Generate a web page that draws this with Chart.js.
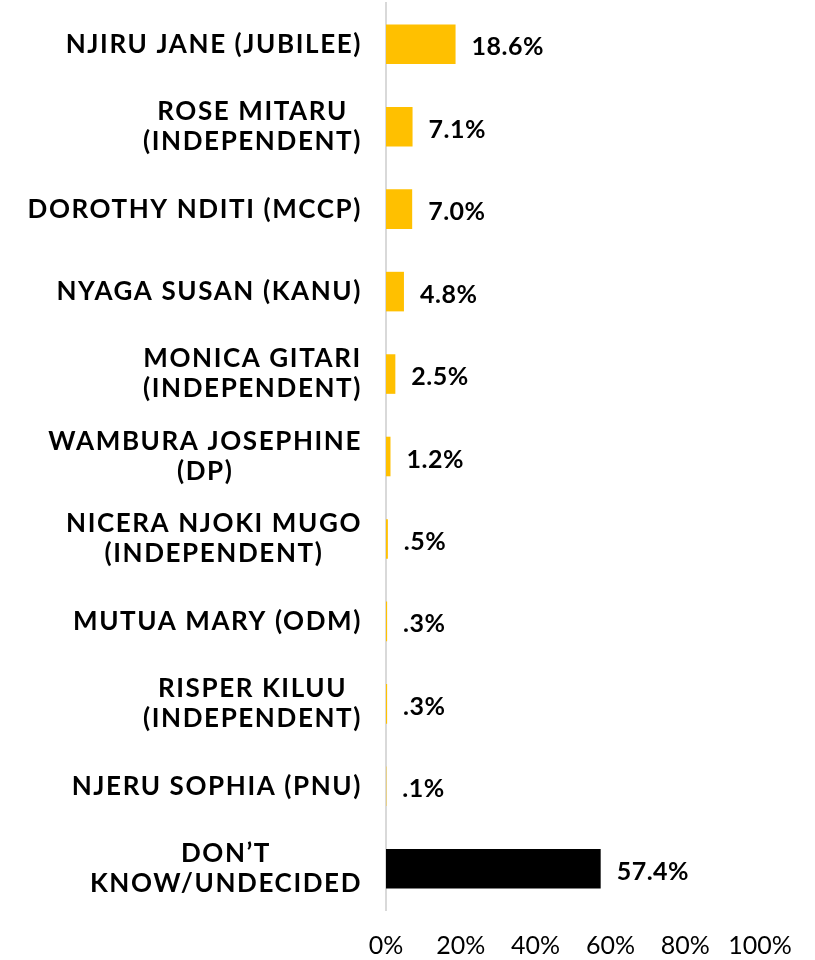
<!DOCTYPE html>
<html>
<head>
<meta charset="utf-8">
<script src="https://cdn.jsdelivr.net/npm/chart.js@4"></script>
<style>
  html, body { margin: 0; padding: 0; background: #fff; }
  #wrap { width: 815px; height: 960px; }
</style>
</head>
<body>
<div id="wrap"><canvas id="barChart"></canvas></div>
<script>
// Candidates (multi-line labels as arrays)
const candidates = [
    ['NJIRU JANE (JUBILEE)'],
    ['ROSE MITARU ', '(INDEPENDENT)'],
    ['DOROTHY NDITI (MCCP)'],
    ['NYAGA SUSAN (KANU)'],
    ['MONICA GITARI', '(INDEPENDENT)'],
    ['WAMBURA JOSEPHINE', '(DP)'],
    ['NICERA NJOKI MUGO', '(INDEPENDENT)'],
    ['MUTUA MARY (ODM)'],
    ['RISPER KILUU', '(INDEPENDENT)'],
    ['NJERU SOPHIA (PNU)'],
    ['DON\u2019T', 'KNOW/UNDECIDED']
];
const shares = [18.6, 7.1, 7.0, 4.8, 2.5, 1.2, 0.5, 0.3, 0.3, 0.1, 57.4];
const xTicks = [0, 20, 40, 60, 80, 100];

const GOLD = '#FFC000';
const barColors = shares.map((v, i) => i === shares.length - 1 ? '#000000' : GOLD);

const FONT = 'Lato, "Open Sans", sans-serif';
const LABEL_FONT = 'bold 26px Lato, sans-serif';
const VALUE_FONT = 'bold 25px Lato, sans-serif';

function fmtPct(v) {
    return v.toFixed(1).replace(/^0/, '') + '%';
}

// draws the category labels (each block centred on itself, right aligned to axis)
const labelPlugin = {
    id: 'catLabels',
    afterDraw(chart) {
        const ctx = chart.ctx;
        const yScale = chart.scales.y;
        const rightEdge = chart.chartArea.left - 24;
        const lineH = 30;
        ctx.save();
        ctx.font = LABEL_FONT;
        ctx.letterSpacing = '1.6px';
        ctx.fillStyle = '#000';
        ctx.textAlign = 'center';
        ctx.textBaseline = 'middle';
        candidates.forEach((lines, i) => {
            const yc = yScale.getPixelForTick(i);
            const w = Math.max(...lines.map(l => ctx.measureText(l.trim()).width));
            const xc = rightEdge - w / 2;
            const y0 = yc - (lines.length - 1) * lineH / 2;
            lines.forEach((l, j) => ctx.fillText(l.trim(), xc, y0 + j * lineH));
        });
        ctx.restore();
    }
};

// value labels at the bar ends
const valuePlugin = {
    id: 'valueLabels',
    afterDatasetsDraw(chart) {
        const ctx = chart.ctx;
        const meta = chart.getDatasetMeta(0);
        ctx.save();
        ctx.font = VALUE_FONT;
        ctx.letterSpacing = '0.5px';
        ctx.fillStyle = '#000';
        ctx.textAlign = 'left';
        ctx.textBaseline = 'middle';
        meta.data.forEach((bar, i) => {
            ctx.fillText(fmtPct(shares[i]), bar.x + 16, bar.y + 3);
        });
        ctx.restore();
    }
};

new Chart(document.getElementById('barChart'), {
    type: 'bar',
    data: {
        labels: candidates,
        datasets: [{
            data: shares,
            backgroundColor: barColors,
            borderWidth: 0,
            barPercentage: 0.48,
            categoryPercentage: 1.0
        }]
    },
    options: {
        indexAxis: 'y',
        responsive: true,
        maintainAspectRatio: false,
        animation: false,
        layout: { padding: { top: 3, right: 55, left: 0, bottom: 0 } },
        plugins: {
            legend: { display: false },
            tooltip: { enabled: false }
        },
        scales: {
            x: {
                min: 0,
                max: 100,
                afterBuildTicks: s => { s.ticks = xTicks.map(v => ({ value: v })); },
                afterFit: s => { s.height = 50; },
                grid: { display: false, drawTicks: false },
                border: { display: false },
                ticks: {
                    padding: 21,
                    color: '#000',
                    font: { family: FONT, size: 25 },
                    callback: v => v + '%'
                }
            },
            y: {
                afterFit: s => { s.width = 386; },
                grid: { display: false, drawTicks: false },
                border: { display: true, color: '#d9d9d9', width: 2 },
                ticks: { display: false }
            }
        }
    },
    plugins: [labelPlugin, valuePlugin]
});
</script>
</body>
</html>
